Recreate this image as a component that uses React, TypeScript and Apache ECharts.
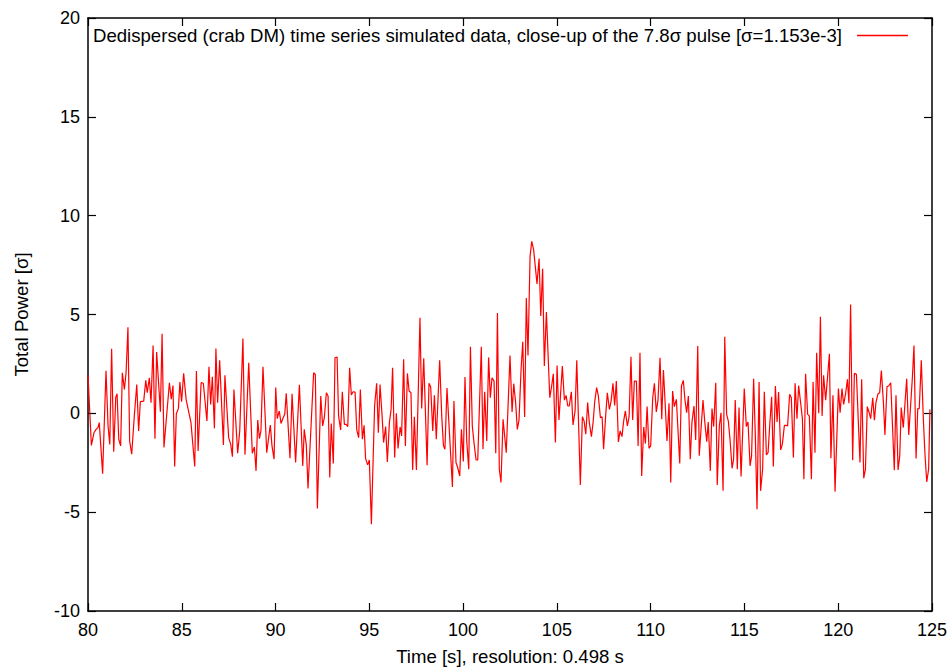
import React, { useEffect, useRef } from "react";
import * as echarts from "echarts";

const seriesName = "Dedispersed (crab DM) time series simulated data, close-up of the 7.8σ pulse [σ=1.153e-3]";
const xTitle = "Time [s], resolution: 0.498 s";
const yTitle = "Total Power [σ]";

const times: number[] = [
  80.00, 80.18, 80.32, 80.43, 80.53, 80.60, 80.78, 80.96, 81.07, 81.16, 81.26, 81.37, 81.48, 81.55, 81.64, 81.74, 81.83, 81.94, 82.03, 82.13,
  82.22, 82.33, 82.47, 82.60, 82.70, 82.79, 82.97, 83.08, 83.16, 83.27, 83.36, 83.47, 83.57, 83.66, 83.86, 83.95, 84.05, 84.34, 84.44, 84.53,
  84.62, 84.71, 84.82, 84.90, 84.99, 85.10, 85.23, 85.49, 85.69, 85.78, 85.87, 86.03, 86.15, 86.34, 86.45, 86.54,
  86.63, 86.74, 86.82, 86.91, 87.02, 87.22, 87.30, 87.50, 87.61, 87.70, 87.78, 87.98, 88.09, 88.26, 88.37, 88.57, 88.76, 88.87, 88.96, 89.05,
  89.14, 89.22, 89.33, 89.53, 89.72, 89.81, 89.92, 90.01, 90.09, 90.20, 90.29, 90.40, 90.49, 90.57, 90.77, 90.88, 91.07, 91.27, 91.45, 91.53,
  91.64, 91.73, 92.03, 92.12, 92.23, 92.41, 92.51, 92.60, 92.71, 92.80, 92.89,
  92.97, 93.08, 93.17, 93.28, 93.36, 93.47, 93.56, 93.67, 93.76, 93.85, 93.95, 94.04, 94.13, 94.24, 94.33, 94.43, 94.52, 94.63, 94.72, 94.80,
  94.91, 95.00, 95.11, 95.28, 95.39, 95.48, 95.57, 95.68, 95.76, 95.87, 95.96, 96.07, 96.16, 96.24, 96.35, 96.44, 96.53, 96.64, 96.72, 96.83,
  96.92, 97.03, 97.12, 97.22, 97.31, 97.40, 97.51, 97.70, 97.79, 97.90, 98.08, 98.18, 98.27, 98.38, 98.47, 98.57, 98.75, 98.86, 98.95, 99.03,
  99.14,
  99.43, 99.51, 99.62, 99.71, 99.82, 99.91, 100.01, 100.10, 100.19, 100.30, 100.39, 100.49, 100.58, 100.69, 100.78, 100.97, 101.06, 101.15, 101.26, 101.36,
  101.45, 101.54, 101.65, 101.74, 101.83, 101.93, 102.02, 102.13, 102.30, 102.50, 102.61, 102.70, 102.80, 102.89, 102.98, 103.09, 103.18, 103.28, 103.37, 103.46,
  103.57, 103.66, 103.76, 103.94, 104.05, 104.14, 104.24, 104.33, 104.44, 104.62, 104.72, 104.81, 104.92, 105.01, 105.11, 105.29, 105.40, 105.49, 105.58,
  105.66, 105.77, 105.86, 105.97, 106.06, 106.25, 106.36, 106.45, 106.54, 106.64, 106.73, 106.84, 106.93, 107.02, 107.12, 107.21, 107.32, 107.41, 107.49, 107.60,
  107.69, 107.80, 107.89, 107.99, 108.08, 108.17, 108.28, 108.37, 108.47, 108.56, 108.65, 108.76, 108.85, 108.95, 109.04, 109.13, 109.24, 109.33, 109.43, 109.52,
  109.63, 109.72, 109.81, 109.91, 110.00, 110.11, 110.20, 110.30, 110.39, 110.50, 110.59, 110.68, 110.78, 110.87, 110.98, 111.07, 111.17, 111.26, 111.37, 111.55,
  111.64, 111.74, 111.83, 111.92,
  112.01, 112.11, 112.20, 112.31, 112.40, 112.51, 112.59, 112.79, 112.88, 112.99, 113.07, 113.18, 113.27, 113.36, 113.47, 113.55, 113.66, 113.75, 113.86, 113.95,
  114.05, 114.14, 114.23, 114.34, 114.42, 114.51, 114.62, 114.71, 114.82, 114.99, 115.10, 115.19, 115.30, 115.38, 115.49, 115.58, 115.67, 115.78, 115.86, 115.97,
  116.06, 116.17, 116.26, 116.34, 116.45, 116.54, 116.65, 116.74, 116.82, 116.93, 117.02, 117.13, 117.22, 117.30, 117.41, 117.50, 117.61, 117.70, 117.80, 117.89,
  118.09, 118.17, 118.26,
  118.37, 118.46, 118.57, 118.66, 118.76, 118.85, 118.96, 119.05, 119.14, 119.22, 119.33, 119.42, 119.53, 119.61, 119.72, 119.83, 120.01, 120.10, 120.20, 120.29,
  120.40, 120.49, 120.57, 120.66, 120.77, 120.86, 120.97, 121.16, 121.25, 121.36, 121.45, 121.55, 121.64, 121.73, 121.84, 121.93, 122.01, 122.12, 122.21, 122.30,
  122.41, 122.49, 122.60, 122.69, 122.80, 122.99, 123.08, 123.19, 123.28, 123.36, 123.47, 123.65, 123.76, 123.95, 124.04, 124.15, 124.24, 124.32, 124.43, 124.54,
  124.63, 124.72, 124.82, 124.89,
];

const power: number[] = [
  1.92, -1.62, -0.98, -0.81, -0.72, -0.47, -3.05, 2.15, -0.64, -1.57, 3.27, -1.94, 0.82, 0.99, -1.31, -1.65, 2.05, 1.21, 2.05, 4.36,
  -1.40, -2.07, -0.13, 1.46, -0.89, 0.59, 0.62, 1.67, 1.04, 1.80, 0.54, 3.43, -1.28, 3.10, 0.08, 4.02, -1.73, 1.55, 0.71, 1.41,
  -2.69, -0.02, 0.25, 1.58, 0.59, 2.02, 0.71, -0.47, -2.69, 2.14, -1.90, 1.55, 1.52, -0.39, 2.36, 0.45,
  1.85, -0.76, 3.28, 0.54, 2.68, -1.60, 1.92, -1.23, -1.57, -2.19, 1.21, -2.02, -0.89, 3.79, -2.10, 2.56, -2.02, -1.70, -2.91, -0.34,
  -1.28, -0.89, 2.36, -1.99, -0.59, -1.65, -2.32, 1.30, -0.27, 0.12, -0.51, -0.24, -0.05, 1.01, -2.27, 0.99, -2.49, 1.45, -2.66, -0.81,
  -1.62, -3.80, 2.05, 1.97, -4.81, 0.88, -0.64, -0.22, 1.04, 0.88, -3.25,
  -0.51, -2.54, 2.81, 2.85, -0.13, -0.84, 1.09, -0.56, -0.56, -0.67, 2.31, 0.93, 1.09, 1.08, -0.84, -1.23, 1.21, -1.31, -0.61, -2.29,
  -2.61, -2.36, -5.61, 0.37, 1.52, -0.98, 1.46, -0.13, -1.48, -0.67, -2.46, -0.47, 0.20, 2.31, -2.24, 0.00, -1.78, -0.69, -1.14, 2.73,
  -1.65, 2.02, 1.13, 1.04, -2.86, -0.17, -2.86, 4.83, 0.25, 2.78, -2.63, 1.52, 1.35, -0.89, 0.91, -1.31, 2.69, -0.13, -1.62, -1.82,
  1.28,
  -3.72, 0.62, -2.49, -2.74, -3.17, -0.81, -2.44, 1.84, -1.35, -2.83, 3.37, -0.64, -1.48, -2.36, -2.36, 3.37, -1.82, 1.09, -1.40, 2.83,
  0.79, 1.80, 1.63, -2.02, 5.08, -2.83, -3.50, -0.30, -1.99, 2.93, 0.07, 1.50, 0.54, -0.81, -0.34, 2.22, 3.62, -0.19, 5.84, 2.93,
  7.95, 8.70, 8.28, 6.55, 7.83, 4.92, 7.31, 2.39, 5.13, 0.79, 1.38, 2.00, -1.48, 2.42, -0.34, 2.39, 0.67, 0.91, 0.37,
  0.37, 1.09, -0.59, 0.12, 2.68, -3.62, -0.17, -0.39, -1.06, 0.54, -0.47, -1.18, -0.47, 0.62, 1.30, 0.88, -0.22, -0.17, -1.82, -0.13,
  1.04, 0.20, 0.62, 1.52, 0.40, 1.63, -1.45, -0.89, -1.18, -0.39, 0.12, -0.64, -0.17, 2.86, -0.34, 1.63, 1.63, -1.65, 3.06, -3.17,
  -0.69, -1.53, 0.34, -1.77, -1.65, 0.79, 1.52, 0.07, 0.67, 2.81, -0.30, 2.19, 0.37, -1.40, 0.51, -3.50, 1.13, 0.34, 0.71, -2.54,
  1.38, 1.67, 0.67, 0.03,
  0.88, -2.32, -0.47, 0.37, -1.35, 3.40, -2.15, 0.67, -0.39, -1.43, -0.44, -2.91, 0.24, -0.67, 1.55, -3.62, -0.64, 0.03, -3.92, 3.87,
  -0.05, -0.39, -1.31, -2.78, -2.32, 0.67, -2.83, 0.29, -3.20, 1.25, -0.67, -0.44, -2.66, -2.15, 1.75, -1.14, -4.85, 1.58, -3.92, -2.83,
  1.09, -2.10, -1.99, -0.72, 0.84, -2.69, 1.38, -0.44, 1.08, -1.85, -1.57, -0.61, -0.61, -0.64, 0.96, 0.79, -2.24, 1.52, -0.27, 1.41,
  -0.27, -3.33, 2.00,
  -0.05, -0.13, -3.33, 1.58, -1.99, 3.06, 0.00, 4.88, -0.13, 1.92, 0.67, 1.72, 3.01, -2.27, 0.91, -3.96, 1.25, 0.03, 1.25, 0.45,
  1.04, 1.72, 0.51, 5.51, -2.37, 2.02, 1.97, -2.49, 1.72, -3.28, -2.83, 0.34, 0.07, -0.27, 0.79, -0.35, 0.54, 0.99, 1.04, 2.17,
  0.54, -1.09, 1.35, 1.38, 1.55, -2.88, 0.91, -2.86, -2.15, 0.29, -0.72, 1.75, -1.09, 1.75, 3.43, -2.29, 0.24, 0.24, 2.68, -0.34,
  -2.15, -3.47, -2.83, 0.20,
];

const xMin = 80, xMax = 125, xStep = 5;
const yMin = -10, yMax = 20, yStep = 5;

const FONT = "'Liberation Sans', Arial, Helvetica, sans-serif";
const FS_TICK = 18;
const FS_TEXT = 18.6;

export default function App() {
  const ref = useRef<HTMLDivElement>(null);
  useEffect(() => {
    if (!ref.current) return;
    const chart = echarts.init(ref.current, null, { renderer: "svg" });
    const data = times.map((t, i) => [t, power[i]]);
    const axisLine = { show: true, onZero: false, lineStyle: { color: "#000", width: 1.5 } };
    const tick = { show: true, inside: true, length: 8, lineStyle: { color: "#000", width: 1.2 } };
    chart.setOption({
      animation: false,
      backgroundColor: "#fff",
      textStyle: { fontFamily: FONT },
      grid: { left: 88, right: 20, top: 18, bottom: 59, containLabel: false },
      legend: {
        show: true,
        left: 93,
        top: 26,
        align: "right",
        icon: "rect",
        itemWidth: 51,
        itemHeight: 1.3,
        padding: 0,
        itemStyle: { color: "#ff0000", borderWidth: 0 },
        textStyle: { fontFamily: FONT, fontSize: FS_TEXT, color: "#000", padding: [0, 10, 0, 0] },
        data: [{ name: seriesName }],
      },
      xAxis: [
        {
          type: "value", min: xMin, max: xMax, interval: xStep, position: "bottom",
          name: xTitle, nameLocation: "middle", nameGap: 36,
          nameTextStyle: { fontFamily: FONT, fontSize: FS_TEXT, color: "#000" },
          axisLine, axisTick: tick, splitLine: { show: false },
          axisLabel: { fontFamily: FONT, fontSize: FS_TICK, color: "#000", margin: 10 },
        },
        {
          type: "value", min: xMin, max: xMax, interval: xStep, position: "top",
          axisLine, axisTick: tick, splitLine: { show: false }, axisLabel: { show: false },
        },
      ],
      yAxis: [
        {
          type: "value", min: yMin, max: yMax, interval: yStep, position: "left",
          name: yTitle, nameLocation: "middle", nameGap: 57, nameRotate: 90,
          nameTextStyle: { fontFamily: FONT, fontSize: FS_TEXT, color: "#000" },
          axisLine, axisTick: tick, splitLine: { show: false },
          axisLabel: { fontFamily: FONT, fontSize: FS_TICK, color: "#000", margin: 8 },
        },
        {
          type: "value", min: yMin, max: yMax, interval: yStep, position: "right",
          axisLine, axisTick: tick, splitLine: { show: false }, axisLabel: { show: false },
        },
      ],
      series: [
        {
          name: seriesName,
          type: "line",
          data,
          symbol: "none",
          showSymbol: false,
          lineStyle: { color: "#ff0000", width: 1.2 },
          itemStyle: { color: "#ff0000" },
          clip: true,
        },
      ],
    });
    return () => chart.dispose();
  }, []);
  return <div ref={ref} style={{ position: "fixed", left: 0, top: 0, width: 952, height: 671 }} />;
}
